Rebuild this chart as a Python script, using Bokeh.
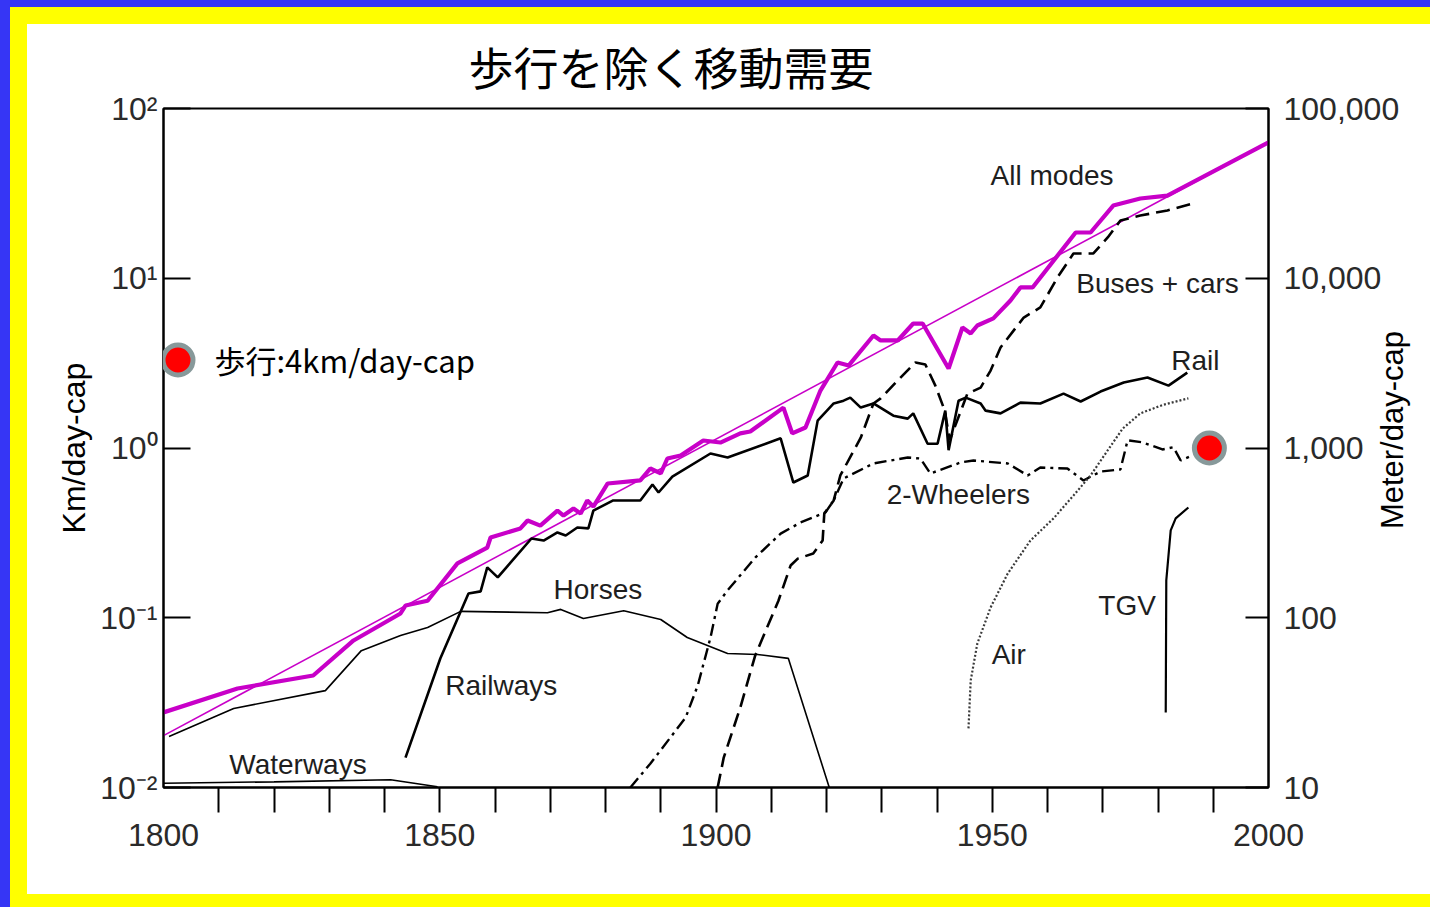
import math

from bokeh.embed import file_html
from bokeh.models import (FixedTicker, Label, Legend, LegendItem, LogAxis,
                          LogScale, Range1d)
from bokeh.plotting import figure
from bokeh.resources import INLINE

# ---- passenger-km per day per capita, by mode ----
all_years = [1800, 1813.4, 1827.1, 1834.4, 1842.9, 1843.8, 1847.8, 1853.2, 1858.6, 1859.2,
             1864.6, 1865.9, 1868.2, 1871.3, 1872.4, 1874.2, 1875.5, 1876.7, 1877.8, 1880.4,
             1886.3, 1888.1, 1890.0, 1891.2, 1893.6, 1897.7, 1900.8, 1904.4, 1906.2, 1912.2,
             1913.8, 1916.2, 1918.9, 1922.0, 1924.0, 1928.5, 1929.8, 1932.9, 1935.7, 1937.4,
             1942.1, 1944.6, 1946.1, 1947.3, 1950.2, 1953.3, 1955.1, 1957.3, 1965.1, 1967.8,
             1971.9, 1976.8, 1981.7, 2000]
all_km = [0.0277, 0.0383, 0.0457, 0.0735, 0.106, 0.118, 0.126, 0.209, 0.259, 0.297,
          0.336, 0.374, 0.349, 0.428, 0.400, 0.440, 0.411, 0.491, 0.452, 0.618,
          0.644, 0.757, 0.708, 0.867, 0.903, 1.107, 1.077, 1.22, 1.25, 1.73,
          1.22, 1.32, 2.18, 3.19, 3.06, 4.60, 4.30, 4.30, 5.41, 5.41,
          2.94, 5.13, 4.73, 5.27, 5.80, 7.39, 8.83, 8.83, 18.6, 18.6,
          26.8, 29.5, 30.7, 63.1]

trend_years = [1800, 2000]
trend_km = [0.0202, 63.1]

horse_years = [1801, 1812.7, 1829.3, 1835.8, 1842.9, 1847.8, 1853.8, 1869.5, 1871.9, 1876.0,
               1883.3, 1890.0, 1894.8, 1902.1, 1907.5, 1913.1, 1920.5]
horse_km = [0.0200, 0.0292, 0.0372, 0.064, 0.0786, 0.0877, 0.109, 0.107, 0.112, 0.099,
            0.110, 0.0977, 0.0765, 0.0616, 0.0608, 0.0576, 0.0100]

water_years = [1800, 1820, 1841.1, 1849.6]
water_km = [0.0106, 0.0108, 0.0111, 0.0101]

rail_years = [1843.8, 1850.1, 1855.2, 1857.4, 1858.6, 1860.5, 1866.6, 1868.8, 1871.3, 1872.8,
              1874.9, 1876.9, 1877.8, 1881.4, 1886.3, 1888.5, 1889.6, 1892.1, 1899.0, 1902.1,
              1911.7, 1914.0, 1916.6, 1918.4, 1921.3, 1923.1, 1924.3, 1926.2, 1928.5, 1932.1,
              1934.7, 1935.7, 1938.3, 1940.1, 1941.5, 1942.1, 1943.9, 1945.2, 1947.9, 1948.8,
              1951.5, 1955.1, 1958.7, 1962.9, 1966.0, 1969.6, 1973.8, 1978.1, 1981.9, 1985.3]
rail_km = [0.0150, 0.0575, 0.139, 0.143, 0.198, 0.173, 0.293, 0.285, 0.318, 0.305,
           0.340, 0.336, 0.428, 0.491, 0.491, 0.610, 0.547, 0.679, 0.928, 0.879,
           1.14, 0.626, 0.689, 1.45, 1.83, 1.90, 1.98, 1.73, 1.83, 1.55,
           1.49, 1.60, 1.06, 1.06, 1.66, 0.97, 1.90, 1.98, 1.83, 1.66,
           1.60, 1.85, 1.83, 2.09, 1.88, 2.15, 2.43, 2.60, 2.33, 2.78]

bus_years = [1900.3, 1901.4, 1904.4, 1907.1, 1911.3, 1913.5, 1914.8, 1917.6, 1919.3, 1919.6,
             1921.3, 1922.5, 1926.2, 1928.5, 1929.8, 1933.4, 1936.1, 1937.9, 1939.7, 1941.4,
             1942.3, 1945.5, 1947.9, 1949.7, 1951.5, 1955.7, 1958.7, 1961.8, 1964.7, 1968.3,
             1970.9, 1973.2, 1976.8, 1981.7, 1986.4]
bus_km = [0.0100, 0.0150, 0.0296, 0.060, 0.126, 0.203, 0.223, 0.239, 0.285, 0.411,
          0.491, 0.689, 1.15, 1.83, 1.96, 2.60, 3.19, 3.10, 2.33, 1.66,
          1.11, 2.09, 2.27, 2.86, 3.91, 5.87, 6.73, 10.1, 14.0, 14.0,
          17.4, 21.9, 23.4, 25.1, 27.6]

wheel_years = [1884.5, 1888.1, 1894.5, 1896.7, 1899.0, 1900.3, 1902.1, 1907.1, 1911.7, 1915.3,
               1919.8, 1921.3, 1923.1, 1928.5, 1934.7, 1937.0, 1938.8, 1944.3, 1946.6, 1952.8,
               1956.4, 1958.7, 1963.6, 1966.5, 1969.6, 1973.2, 1974.5, 1977.2, 1980.8, 1982.8,
               1984.1, 1986.2]
wheel_km = [0.0100, 0.0138, 0.0258, 0.0399, 0.0764, 0.121, 0.145, 0.226, 0.313, 0.364,
            0.417, 0.491, 0.661, 0.811, 0.879, 0.867, 0.708, 0.822, 0.844, 0.811,
            0.689, 0.767, 0.757, 0.644, 0.727, 0.747, 1.11, 1.08, 0.98, 1.01,
            0.844, 0.903]

air_years = [1945.7, 1946.1, 1947.3, 1949.7, 1952.8, 1956.9, 1961.1, 1964.7, 1967.8, 1970.5,
             1973.6, 1976.8, 1981.0, 1985.5]
air_km = [0.0223, 0.0427, 0.0705, 0.115, 0.182, 0.285, 0.385, 0.525, 0.689, 0.928,
          1.30, 1.60, 1.80, 1.96]

tgv_years = [1981.4, 1981.5, 1982.3, 1983.2, 1985.5]
tgv_km = [0.0277, 0.166, 0.327, 0.385, 0.446]

walk_years = [1989.3]
walk_km = [1.0]

# axis ticks and their labels
km_ticks = [0.01, 0.1, 1, 10, 100]
km_tick_labels = ["10⁻²", "10⁻¹", "10⁰", "10¹", "10²"]
m_ticks = [10, 100, 1000, 10000, 100000]
m_tick_labels = ["10", "100", "1,000", "10,000", "100,000"]
year_ticks = [1800, 1850, 1900, 1950, 2000]
year_minor_ticks = [1810, 1820, 1830, 1840, 1850, 1860, 1870, 1880, 1890, 1900,
                    1910, 1920, 1930, 1940, 1950, 1960, 1970, 1980, 1990]

# in-chart mode names: text, left x (year), middle y (km)
mode_names = ["All modes", "Buses + cars", "Rail", "2-Wheelers", "Horses",
              "Railways", "Waterways", "TGV", "Air"]
mode_name_x = [1949.7, 1965.2, 1982.4, 1930.9, 1870.6, 1851.0, 1811.9, 1969.2, 1949.9]
mode_name_y = [40.3, 9.31, 3.28, 0.532, 0.147, 0.0399, 0.0137, 0.118, 0.0607]

SANS = "Liberation Sans"
CJK = "Noto Sans CJK JP"
MAGENTA = "#C800C8"
INK = "#1E1E1E"
TICK_INK = "#2A2A2A"

p = figure(width=1430, height=907, output_backend="svg", toolbar_location=None,
           x_range=Range1d(1800, 2000), y_range=Range1d(0.01, 100),
           y_axis_type="log",
           min_border_left=163, min_border_right=162,
           min_border_top=108, min_border_bottom=120)

# page frame: blue outer band, yellow inner band, white sheet
p.border_fill_color = None
p.background_fill_color = "white"
p.styles = {
    "background": (
        "linear-gradient(to right, #3636F5 10px, transparent 10px),"
        "linear-gradient(to bottom, #3636F5 7px, transparent 7px),"
        "linear-gradient(to right, #FFFF00 27px, transparent 27px),"
        "linear-gradient(to bottom, #FFFF00 24px, transparent 24px, transparent 894px, #FFFF00 894px),"
        "#FFFFFF"
    )
}

p.outline_line_color = "black"
p.outline_line_width = 2
p.xgrid.visible = False
p.ygrid.visible = False

# title
p.title.text = "歩行を除く移動需要"
p.title.text_font = CJK
p.title.text_font_size = "45px"
p.title.text_font_style = "normal"
p.title.text_color = "black"
p.title.align = "left"
p.title.offset = 305
p.title.standoff = 20

# bottom axis: years
xa = p.xaxis[0]
xa.ticker = FixedTicker(ticks=year_ticks, minor_ticks=year_minor_ticks)
xa.major_tick_in = 0
xa.major_tick_out = 0
xa.minor_tick_in = 0
xa.minor_tick_out = 25
xa.minor_tick_line_color = "black"
xa.minor_tick_line_width = 2
xa.axis_line_color = "black"
xa.axis_line_width = 2
xa.major_label_text_font = SANS
xa.major_label_text_font_size = "32px"
xa.major_label_text_color = TICK_INK
xa.major_label_standoff = 11

# left axis: km/day-cap
ya = p.yaxis[0]
ya.ticker = FixedTicker(ticks=km_ticks)
ya.major_label_overrides = dict(zip(km_ticks, km_tick_labels))
ya.major_tick_in = 27
ya.major_tick_out = 0
ya.major_tick_line_width = 2
ya.major_tick_line_color = "black"
ya.minor_tick_line_color = None
ya.axis_line_color = "black"
ya.axis_line_width = 2
ya.major_label_text_font = SANS
ya.major_label_text_font_size = "32px"
ya.major_label_text_color = TICK_INK
ya.major_label_standoff = 6
ya.axis_label = "Km/day-cap"
ya.axis_label_text_font = SANS
ya.axis_label_text_font_size = "32px"
ya.axis_label_text_font_style = "normal"
ya.axis_label_text_color = "black"
ya.axis_label_standoff = 5

# right axis: metres/day-cap on the same scale
p.extra_y_ranges = {"m": Range1d(10, 100000)}
p.extra_y_scales = {"m": LogScale()}
ra = LogAxis(y_range_name="m", ticker=FixedTicker(ticks=m_ticks),
             major_label_overrides=dict(zip(m_ticks, m_tick_labels)))
ra.major_tick_in = 23
ra.major_tick_out = 0
ra.major_tick_line_width = 2
ra.major_tick_line_color = "black"
ra.minor_tick_line_color = None
ra.axis_line_color = "black"
ra.axis_line_width = 2
ra.major_label_text_font = SANS
ra.major_label_text_font_size = "32px"
ra.major_label_text_color = TICK_INK
ra.major_label_standoff = 15
# axis title reads upwards; it starts from the lower end of the axis,
# lifted by no-break spaces so it sits beside the middle of the scale
ra.axis_label = "\u00a0" * 30 + "Meter/day-cap"
ra.axis_label_text_font = SANS
ra.axis_label_text_font_size = "31px"
ra.axis_label_text_font_style = "normal"
ra.axis_label_text_color = "black"
ra.axis_label_standoff = -10
if "axis_label_orientation" in ra.properties():
    ra.axis_label_orientation = math.pi / 2
if "axis_label_align" in ra.properties():
    ra.axis_label_align = "start"
p.add_layout(ra, "right")

# series
p.line(trend_years, trend_km, line_color=MAGENTA, line_width=1.6)
p.line(water_years, water_km, line_color="black", line_width=1.6)
p.line(horse_years, horse_km, line_color="black", line_width=1.6)
p.line(rail_years, rail_km, line_color="black", line_width=2.6)
p.line(bus_years, bus_km, line_color="black", line_width=2.6, line_dash="14 7")
p.line(wheel_years, wheel_km, line_color="black", line_width=2.4, line_dash="12 5 3 5")
p.line(air_years, air_km, line_color="#3A3A3A", line_width=2.2, line_dash="2 2")
p.line(tgv_years, tgv_km, line_color="black", line_width=2.2)
p.line(all_years, all_km, line_color=MAGENTA, line_width=4.2)

walk = p.scatter(walk_years, walk_km, size=30, fill_color="#FF0000",
                 line_color="#87999A", line_width=5)

for name, lx, ly in zip(mode_names, mode_name_x, mode_name_y):
    p.add_layout(Label(x=lx, y=ly, text=name, text_align="left", text_baseline="middle",
                       text_font=SANS, text_font_size="28px", text_color=INK))

# key for the walking marker
walk_key = Legend(items=[LegendItem(label="歩行:4km/day-cap", renderers=[walk])],
                  location=(-23.5, 390), orientation="vertical",
                  glyph_width=75, glyph_height=75, padding=0, margin=0,
                  spacing=0, label_standoff=0,
                  border_line_color=None, background_fill_alpha=0,
                  label_text_font=CJK, label_text_font_size="31px",
                  label_text_color="black")
p.add_layout(walk_key, "center")

open("out.html", "w").write(file_html(p, INLINE))
